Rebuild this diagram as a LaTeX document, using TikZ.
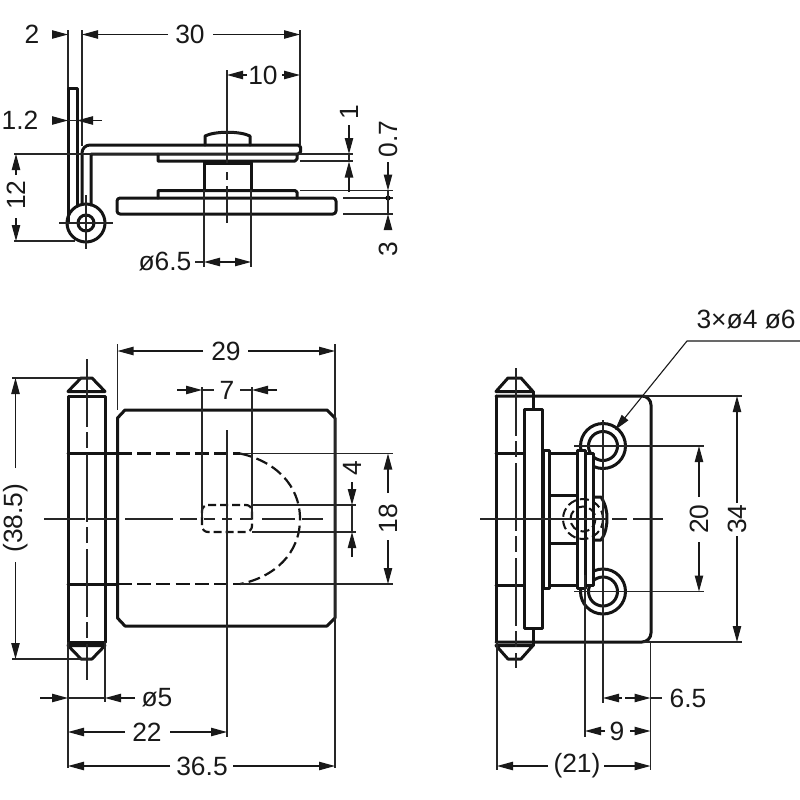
\documentclass[tikz,border=0pt]{standalone}
\usepackage{fontspec}
\setmainfont{Liberation Sans}
\usetikzlibrary{arrows.meta}
\tikzset{
  thickline/.style={line width=1.5pt,line join=round,line cap=round,black!92},
  dashedline/.style={line width=1.3pt,dash pattern=on 7pt off 2.6pt,black!92},
  thinline/.style={line width=0.55pt,black!85},
  centerline/.style={line width=0.55pt,black!85,dash pattern=on 34pt off 2.5pt on 8pt off 3pt},
  dimarrow/.style={line width=0.55pt,black!90,-{Triangle[length=8pt,width=4.2pt]}},
  dimtext/.style={inner sep=0pt,font=\fontsize{13.2}{13.2}\selectfont,text=black!90},
  vdimtext/.style={dimtext,rotate=90},
  whitefill/.style={thickline,fill=white}
}
\begin{document}
\begin{tikzpicture}[x=0.5pt,y=-0.5pt]
\useasboundingbox (0,0) rectangle (800,800);
\fill[white] (0,0) rectangle (800,800);

% ---------- TOP VIEW ----------
\draw[thinline] (68,30)--(68,88) (82,30)--(82,146) (300,30)--(300,145);
\draw[thickline] (68,223)--(68,88)--(77,88)--(77,206);
\draw[thickline] (82,204)--(82,153) arc[start angle=180,end angle=270,radius=8]--(298,145)--(300.5,147)--(300.5,152)--(298,154)--(91,154)--(91,205);
\draw[thickline] (86,223) circle[radius=19];
\draw[thickline] (86,223) circle[radius=8];
\draw[thinline] (59,223)--(113,223) (86,195)--(86,249);
\draw[thickline] (158,154)--(158,161)--(295,161)--(297,159)--(297,154);
\draw[thickline] (205,145)--(205,136) .. controls (215,131) and (240,131) .. (250,136)--(250,145);
\draw[thinline] (214,134) .. controls (222,131.5) and (233,131.5) .. (241,134);
\draw[thickline] (204,191)--(204,162)--(251,162)--(251,191);
\draw[line width=1.5pt,black!92] (204,163)--(251,163);
\draw[thickline] (158,198)--(158,190.5)--(295,190.5)--(297,192)--(297,198);
\draw[thickline,rounded corners=1.5pt] (117,198)--(336,198)--(336,214)--(117,214)--cycle;
\draw[thinline] (227,70)--(227,163) (227,172)--(227,180) (227,186)--(227,223);
\draw[thinline] (204,190)--(204,267) (251,190)--(251,267);
% extension lines
\draw[thinline] (14,154)--(300,154) (14,241)--(75,241);
\draw[thinline] (300,161)--(353,161) (300,154)--(353,154);
\draw[thinline] (300,190.5)--(393,190.5) (343,198)--(393,198) (343,214)--(393,214);
% dims
\node[dimtext] (d2) at (32,34.5) {2};
\draw[dimarrow] (53,34.5)--(68,34.5);
\draw[dimarrow] (168,34.5)--(82,34.5);
\node[dimtext] (d30) at (190,34.5) {30};
\draw[dimarrow] (213,34.5)--(300,34.5);
\node[dimtext] (d10) at (263,75) {10};
\draw[dimarrow] (247,75)--(227,75);
\draw[dimarrow] (282,75)--(300,75);
\node[dimtext] (d12a) at (20,120.5) {1.2};
\draw[dimarrow] (52,120.5)--(68,120.5);
\draw[thinline] (68,120.5)--(77,120.5);
\draw[dimarrow] (102,120.5)--(77,120.5);
\node[vdimtext] (d12) at (16,195) {12};
\draw[dimarrow] (16,175)--(16,154);
\draw[dimarrow] (16,218)--(16,241);
\node[vdimtext] (d1) at (349,112) {1};
\draw[dimarrow] (349,125)--(349,154);
\draw[thinline] (349,154)--(349,161.5);
\draw[dimarrow] (349,192)--(349,161.5);
\node[vdimtext] (d07) at (388,139) {0.7};
\draw[dimarrow] (388,162)--(388,190.5);
\draw[dimarrow] (388,229)--(388,214);
\fill[black] (388,198) circle[radius=2.6];
\draw[thinline] (388,190)--(388,214);
\node[vdimtext] (d3) at (388,249) {3};
\node[dimtext] (d65) at (165,262) {ø6.5};
\draw[thinline] (195,262)--(204,262);
\draw[dimarrow] (227,262)--(204,262);
\draw[dimarrow] (227,262)--(251,262);

% ---------- FRONT VIEW ----------
\draw[thickline] (68,391.5)--(81,378)--(92,378)--(105,391.5)--cycle;
\draw[thickline] (68,396)--(105,396)--(105,642)--(68,642)--cycle;
\draw[thickline] (68,645.5)--(81,659)--(92,659)--(105,645.5)--cycle;
\draw[thickline] (68,453.5)--(118,453.5) (68,584)--(118,584);
\draw[thickline] (125,410)--(327,410)--(335,418)--(335,618)--(327,626)--(125,626)--(117.5,618)--(117.5,418)--cycle;
\draw[dashedline] (118,453.5)--(240,453.5);
\draw[dashedline] (118,584)--(240,584);
\draw[line width=1.1pt,black!92,dash pattern=on 6pt off 2.6pt] (240,453.5) .. controls (275,461) and (300,485) .. (300,519) .. controls (300,553) and (275,577) .. (240,584);
\draw[line width=1.1pt,black!92,dash pattern=on 4pt off 2pt,rounded corners=3pt] (202,505)--(252,505)--(252,532)--(202,532)--cycle;
\draw[centerline] (87,359)--(87,680);
\draw[thinline] (44,519)--(85,519) (88,519)--(117,519) (125,519)--(173,519) (180,519)--(197,519) (204,519)--(215,519) (222,519)--(232,519) (240,519)--(252,519) (262,519)--(295,519) (302,519)--(323,519);
\draw[thinline] (227,430)--(227,737);
\draw[thinline] (202,387)--(202,518) (252,387)--(252,518);
\draw[thinline] (252,505)--(356,505) (252,532)--(356,532);
\draw[thinline] (240,453.5)--(393,453.5) (240,584)--(393,584);
\draw[thinline] (117.5,344)--(117.5,410) (335,344)--(335,768);
\draw[thinline] (12,378)--(90,378) (12,659)--(90,659);
\draw[thinline] (68,642)--(68,768) (105,642)--(105,702);
% dims
\node[dimtext] (d29) at (226,351) {29};
\draw[dimarrow] (203,351)--(117.5,351);
\draw[dimarrow] (248,351)--(335,351);
\node[dimtext] (d7) at (227,390) {7};
\draw[dimarrow] (177,390)--(202,390);
\draw[dimarrow] (277,390)--(252,390);
\draw[thinline] (202,390)--(214,390) (240,390)--(252,390);
\node[vdimtext] (d385) at (15.5,518) {(38.5)};
\draw[dimarrow] (15.5,468)--(15.5,378);
\draw[dimarrow] (15.5,562)--(15.5,659);
\node[vdimtext] (d4) at (352,468) {4};
\draw[dimarrow] (352,482)--(352,505);
\draw[thinline] (352,505)--(352,532);
\draw[dimarrow] (352,557)--(352,532);
\node[vdimtext] (d18) at (388,518.5) {18};
\draw[dimarrow] (388,493)--(388,453.5);
\draw[dimarrow] (388,540)--(388,584);
\node[dimtext] (d5) at (157,698) {ø5};
\draw[dimarrow] (40,698)--(68,698);
\draw[thinline] (68,698)--(105,698);
\draw[dimarrow] (135,698)--(105,698);
\node[dimtext] (d22) at (147,732) {22};
\draw[dimarrow] (125,732)--(68,732);
\draw[dimarrow] (170,732)--(227,732);
\node[dimtext] (d365) at (202,766) {36.5};
\draw[dimarrow] (170,766)--(68,766);
\draw[dimarrow] (233,766)--(335,766);

% ---------- SIDE VIEW ----------
\draw[thickline] (496,391.5)--(508,378)--(521,378)--(533,391.5)--cycle;
\draw[thickline] (496,645.5)--(508,659)--(521,659)--(533,645.5)--cycle;
\draw[thickline] (496,396)--(496,642);
\draw[thickline] (533,391.5)--(533,409) (533,628)--(533,645.5);
\draw[thickline] (496,396)--(642,396) arc[start angle=-90,end angle=0,radius=9]--(651,633) arc[start angle=0,end angle=90,radius=9]--(496,642);
\draw[thickline] (496,453)--(525,453) (496,585)--(525,585);
\draw[thickline] (603,446) circle[radius=22.5];
\draw[thickline] (603,446) circle[radius=14.5];
\draw[thickline] (603,591.5) circle[radius=22.5];
\draw[thickline] (603,591.5) circle[radius=14.5];
\draw[whitefill] (524,409) rectangle (542,628);
\draw[whitefill] (549,453) rectangle (577,585);
\draw[thickline] (549,495)--(577,495) (549,543)--(577,543);
\draw[whitefill] (543,450) rectangle (549,588);
\draw[whitefill] (593,497)--(601,497) .. controls (606,505) and (607,512) .. (607,518) .. controls (607,525) and (606,533) .. (601,540)--(593,540)--cycle;
\draw[whitefill] (585,453) rectangle (593,585);
\draw[whitefill] (577,450) rectangle (585,588);
\draw[line width=1pt,black!92,dash pattern=on 4.5pt off 2pt] (583,519) circle[radius=20];
\draw[line width=1pt,black!92,dash pattern=on 4.5pt off 2pt] (583,519) circle[radius=12.5];
\draw[centerline] (516,368)--(516,668);
\draw[thinline] (480,519)--(606,519) (612,519)--(627,519) (633,519)--(663,519);
\draw[thinline] (603,420)--(603,703) (585,575)--(585,737);
\draw[thinline] (574,446)--(704,446) (574,591.5)--(704,591.5);
\draw[thinline] (643,396)--(742,396) (643,642)--(742,642);
\draw[thinline] (497,642)--(497,770) (650.5,642)--(650.5,770);
% leader
\node[dimtext,anchor=east] (dlead) at (796,320) {3×ø4 ø6};
\draw[dimarrow] (800,341)--(687,341)--(615,430);
% dims
\node[vdimtext] (d34) at (737,519) {34};
\draw[dimarrow] (737,503)--(737,396);
\draw[dimarrow] (737,536)--(737,642);
\node[vdimtext] (d20) at (699,519) {20};
\draw[dimarrow] (699,497)--(699,446);
\draw[dimarrow] (699,542)--(699,591.5);
\node[dimtext] (d65b) at (688,698) {6.5};
\draw[dimarrow] (622,698)--(603,698);
\draw[dimarrow] (625,698)--(650.5,698);
\draw[thinline] (650,698)--(662,698);
\node[dimtext] (d9) at (617,731) {9};
\draw[dimarrow] (605,731)--(585,731);
\draw[dimarrow] (630,731)--(650.5,731);
\node[dimtext] (d21) at (577,766) {(21)};
\draw[dimarrow] (548,766)--(497,766);
\draw[dimarrow] (604,766)--(650.5,766);
\end{tikzpicture}
\end{document}
